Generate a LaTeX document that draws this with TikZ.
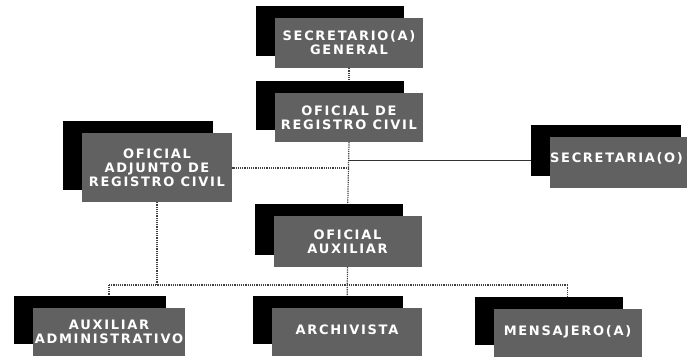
\documentclass[tikz,border=0pt]{standalone}
\usepackage{fontspec}
\setmainfont{DejaVu Sans}
\newfontfamily\boxfont[LetterSpace=13]{DejaVu Sans}
\usetikzlibrary{shadows,backgrounds}
\begin{document}
\begin{tikzpicture}[x=1pt,y=-1pt,
  box/.style={fill=black!62, text=white, font=\boxfont\bfseries\fontsize{13}{14}\selectfont,
    align=center, inner sep=0pt, minimum width=148pt, minimum height=50pt,
    general shadow={fill=black, shadow xshift=-19pt, shadow yshift=12pt}},
  link/.style={densely dotted, line width=1.2pt, black!75},
  solidlink/.style={line width=0.9pt, black!80}]
\useasboundingbox (0,0) rectangle (687,360);
\clip (0,0) rectangle (687,360);
\node[box] (sg) at (349,43) {SECRETARIO(A)\\GENERAL};
\node[box, minimum height=49pt] (orc) at (349,117.5) {OFICIAL DE\\REGISTRO CIVIL};
\node[box, minimum width=150pt, minimum height=69pt] (oa) at (157,167.5) {OFICIAL\\ADJUNTO DE\\REGISTRO CIVIL};
\node[box, minimum width=150pt, minimum height=51pt] (sec) at (625,162.5) {\raisebox{10pt}{\hspace*{-17pt}SECRETARIA(O)}};
\node[box, minimum height=51pt] (aux) at (347.5,241.5) {OFICIAL\\AUXILIAR};
\node[box, minimum width=152pt, minimum height=48pt] (aa) at (109,332) {AUXILIAR\\ADMINISTRATIVO};
\node[box, minimum width=150pt, minimum height=48pt] (arc) at (347,332) {\raisebox{4pt}{ARCHIVISTA}};
\node[box, minimum height=48pt] (men) at (567.5,332.5) {\raisebox{3pt}{MENSAJERO(A)}};
\begin{scope}[on background layer]
\coordinate (j1) at (orc.south |- 0,160);
\coordinate (j2) at (orc.south |- 0,168);
\coordinate (bus) at (0,285);
\draw[link] (sg) -- (orc);
\draw[link] (orc.south) -- (aux.north);
\draw[link] (j2) -- (oa.east |- j2);
\draw[solidlink] (j1) -- (sec.west |- j1);
\draw[link] (oa.south) -- (oa.south |- bus);
\draw[link] (aa.north |- bus) -- (men.north |- bus);
\draw[link] (aa.north) -- (aa.north |- bus);
\draw[link] (aux.south) -- (arc.north);
\draw[link] (men.north) -- (men.north |- bus);
\end{scope}
\end{tikzpicture}
\end{document}
